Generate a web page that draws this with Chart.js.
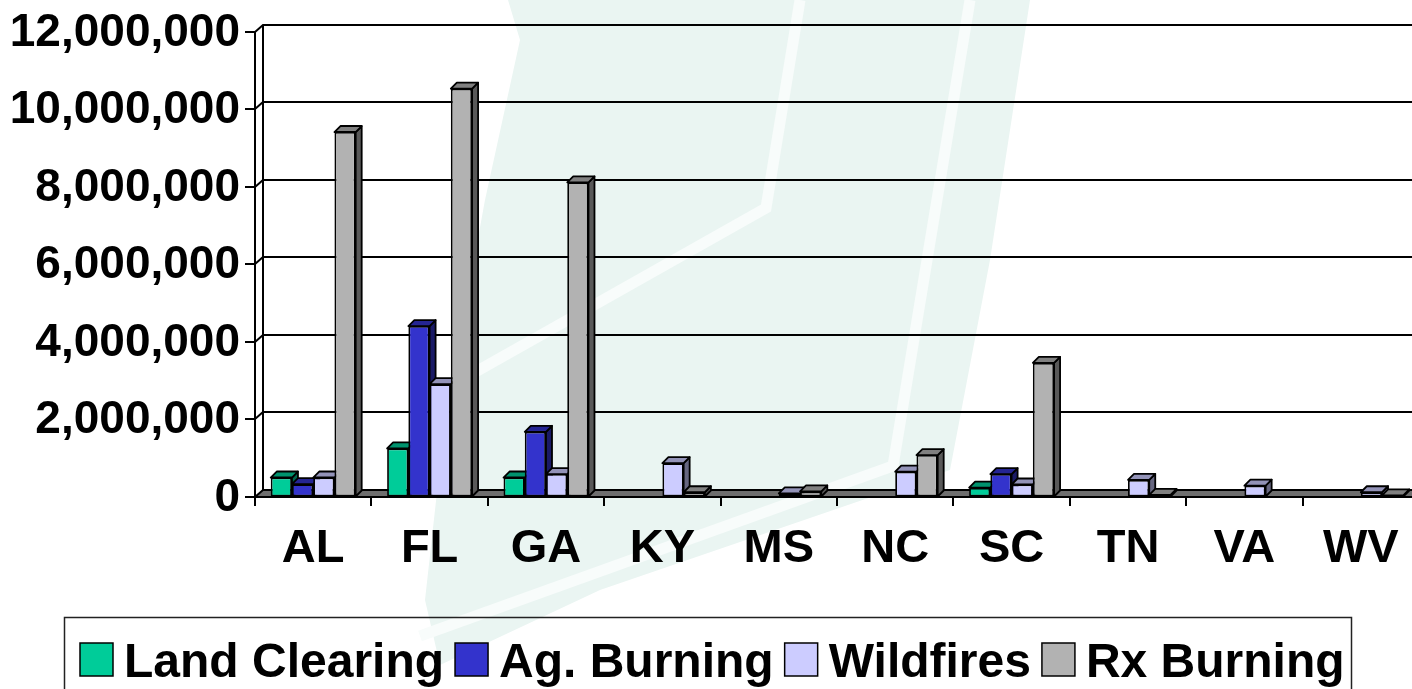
<!DOCTYPE html>
<html>
<head>
<meta charset="utf-8">
<script src="https://cdn.jsdelivr.net/npm/chart.js@4/dist/chart.umd.min.js"></script>
<style>
  html, body { margin: 0; padding: 0; background: #fff; overflow: hidden; }
  #wrap { position: relative; width: 1412px; height: 689px; overflow: hidden; background: #fff; }
  canvas { display: block; }
</style>
</head>
<body>
<div id="wrap"><canvas id="c" width="1430" height="689"></canvas></div>
<script>
// Emissions by state and burning source
const states = ['AL', 'FL', 'GA', 'KY', 'MS', 'NC', 'SC', 'TN', 'VA', 'WV'];
const seriesNames = ['Land Clearing', 'Ag. Burning', 'Wildfires', 'Rx Burning'];
const landClearing = [490000, 1240000, 490000, 0, 0, 0, 230000, 0, 0, 0];
const agBurning    = [320000, 4400000, 1670000, 0, 0, 0, 580000, 0, 0, 0];
const wildfires    = [490000, 2900000, 580000, 860000, 80000, 640000, 310000, 430000, 280000, 110000];
const rxBurning    = [9410000, 10530000, 8110000, 110000, 130000, 1070000, 3450000, 40000, 0, 30000];
const yTickValues  = [0, 2000000, 4000000, 6000000, 8000000, 10000000, 12000000];
const seriesColors = ['#00CC99', '#3333CC', '#CCCCFF', '#B2B2B2'];

const FONT = '"Liberation Sans", Arial, Helvetica, sans-serif';
const WALL = { dx: 8, dy: 7 };     // depth of the walls/floor
const BAR  = { dx: 6, dy: 6 };     // depth of each column

function shade(hex, f) {
  const n = parseInt(hex.slice(1), 16);
  const r = Math.round(((n >> 16) & 255) * f);
  const g = Math.round(((n >> 8) & 255) * f);
  const b = Math.round((n & 255) * f);
  return `rgb(${r},${g},${b})`;
}

function poly(ctx, pts, fill, stroke, lw) {
  ctx.beginPath();
  ctx.moveTo(pts[0][0], pts[0][1]);
  for (let i = 1; i < pts.length; i++) ctx.lineTo(pts[i][0], pts[i][1]);
  ctx.closePath();
  if (fill) { ctx.fillStyle = fill; ctx.fill(); }
  if (stroke) { ctx.strokeStyle = stroke; ctx.lineWidth = lw || 1; ctx.stroke(); }
}

// Faint slide-background motif
const backdrop = {
  id: 'backdrop',
  beforeDraw(chart) {
    const ctx = chart.ctx;
    ctx.save();
    poly(ctx, [[508, 0], [1030, 0], [990, 260], [950, 470], [600, 590], [440, 665], [425, 600], [445, 420], [485, 200], [520, 40]], '#eaf5f2');
    ctx.strokeStyle = '#f8fcfb';
    ctx.lineWidth = 11;
    ctx.lineJoin = 'miter';
    ctx.beginPath();
    ctx.moveTo(440, 392); ctx.lineTo(766, 208); ctx.lineTo(800, 0);
    ctx.stroke();
    ctx.beginPath();
    ctx.moveTo(420, 636); ctx.lineTo(893, 466); ctx.lineTo(970, 0);
    ctx.stroke();
    ctx.restore();
  }
};

// Walls, floor, axes and the depth faces of each column
const scene3d = {
  id: 'scene3d',
  beforeDatasetsDraw(chart) {
    const { ctx, chartArea: a, scales: { x, y } } = chart;
    const base = Math.round(y.getPixelForValue(0));
    const topY = Math.round(y.getPixelForValue(yTickValues[yTickValues.length - 1]));
    const left = Math.round(a.left);
    ctx.save();
    ctx.lineCap = 'butt';

    // gridlines on the left and back walls
    ctx.strokeStyle = '#000';
    ctx.lineWidth = 2;
    yTickValues.forEach(v => {
      if (v === 0) return;
      const py = Math.round(y.getPixelForValue(v));
      ctx.beginPath();
      ctx.moveTo(left, py);
      ctx.lineTo(left + WALL.dx, py - WALL.dy);
      ctx.lineTo(a.right + WALL.dx + 20, py - WALL.dy);
      ctx.stroke();
    });
    // back edge of the left wall
    ctx.beginPath();
    ctx.moveTo(left + WALL.dx, topY - WALL.dy);
    ctx.lineTo(left + WALL.dx, base - WALL.dy);
    ctx.stroke();

    // floor
    poly(ctx, [[left, base], [a.right + 20, base], [a.right + 20 + WALL.dx, base - WALL.dy], [left + WALL.dx, base - WALL.dy]], '#6e6e6e', '#000', 2);

    // value axis line and ticks
    ctx.lineWidth = 2;
    ctx.beginPath();
    ctx.moveTo(left, topY);
    ctx.lineTo(left, base + 9);
    ctx.stroke();
    ctx.font = `bold 46px ${FONT}`;
    ctx.fillStyle = '#000';
    ctx.textAlign = 'right';
    ctx.textBaseline = 'middle';
    yTickValues.forEach(v => {
      const py = Math.round(y.getPixelForValue(v));
      ctx.beginPath();
      ctx.moveTo(left - 10, py);
      ctx.lineTo(left, py);
      ctx.stroke();
      ctx.fillText(v.toLocaleString('en-US'), left - 15, py + 1);
    });

    // category axis ticks and labels
    const step = (a.right - a.left) / states.length;
    for (let i = 0; i <= states.length; i++) {
      const px = Math.round(a.left + i * step);
      ctx.beginPath();
      ctx.moveTo(px, base);
      ctx.lineTo(px, base + 9);
      ctx.stroke();
    }
    ctx.font = `bold 47px ${FONT}`;
    ctx.textAlign = 'center';
    states.forEach((s, i) => {
      ctx.fillText(s, x.getPixelForValue(i), base + 52);
    });

    // side and top faces, drawn left to right so neighbours overlap correctly
    const metas = chart.data.datasets.map((_, d) => chart.getDatasetMeta(d));
    ctx.lineJoin = 'round';
    for (let i = 0; i < states.length; i++) {
      metas.forEach((meta, d) => {
        const val = chart.data.datasets[d].data[i];
        if (!val) return;
        const el = meta.data[i];
        const { x: cx, y: ty, base: by, width: w } = el.getProps(['x', 'y', 'base', 'width'], true);
        const L = cx - w / 2, R = cx + w / 2;
        const col = seriesColors[d];
        poly(ctx, [[R, ty], [R + BAR.dx, ty - BAR.dy], [R + BAR.dx, by - BAR.dy], [R, by]], shade(col, 0.5), '#000', 1.8);
        poly(ctx, [[L, ty], [L + BAR.dx, ty - BAR.dy], [R + BAR.dx, ty - BAR.dy], [R, ty]], shade(col, 0.72), '#000', 1.8);
      });
    }
    ctx.restore();
  },
  afterDraw(chart) {
    const ctx = chart.ctx;
    ctx.save();
    // legend
    ctx.strokeStyle = '#222';
    ctx.lineWidth = 1.5;
    ctx.strokeRect(64.5, 617.5, 1287, 120);
    ctx.font = `bold 48px ${FONT}`;
    ctx.textAlign = 'left';
    ctx.textBaseline = 'alphabetic';
    let sx = 80;
    seriesNames.forEach((name, d) => {
      ctx.fillStyle = seriesColors[d];
      ctx.fillRect(sx, 643, 33, 33);
      ctx.strokeStyle = '#000';
      ctx.lineWidth = 1.5;
      ctx.strokeRect(sx, 643, 33, 33);
      ctx.fillStyle = '#000';
      ctx.fillText(name, sx + 44, 677);
      sx += 44 + ctx.measureText(name).width + 11;
    });
    ctx.restore();
  }
};

const seriesData = [landClearing, agBurning, wildfires, rxBurning];

new Chart(document.getElementById('c'), {
  type: 'bar',
  data: {
    labels: states,
    datasets: seriesData.map((vals, d) => ({
      label: seriesNames[d],
      data: vals,
      backgroundColor: seriesColors[d],
      borderColor: '#000',
      borderWidth: ctx => (ctx.raw > 0 ? 1.8 : 0),
      borderSkipped: false,
      categoryPercentage: 0.73,
      barPercentage: 1.0
    }))
  },
  options: {
    responsive: false,
    animation: false,
    devicePixelRatio: 1,
    layout: { padding: { left: 255, right: 11, top: 31.7, bottom: 192.5 } },
    plugins: { legend: { display: false }, tooltip: { enabled: false } },
    scales: {
      x: { display: false, offset: true },
      y: { display: false, min: 0, max: 12000000 }
    }
  },
  plugins: [backdrop, scene3d]
});
</script>
</body>
</html>
